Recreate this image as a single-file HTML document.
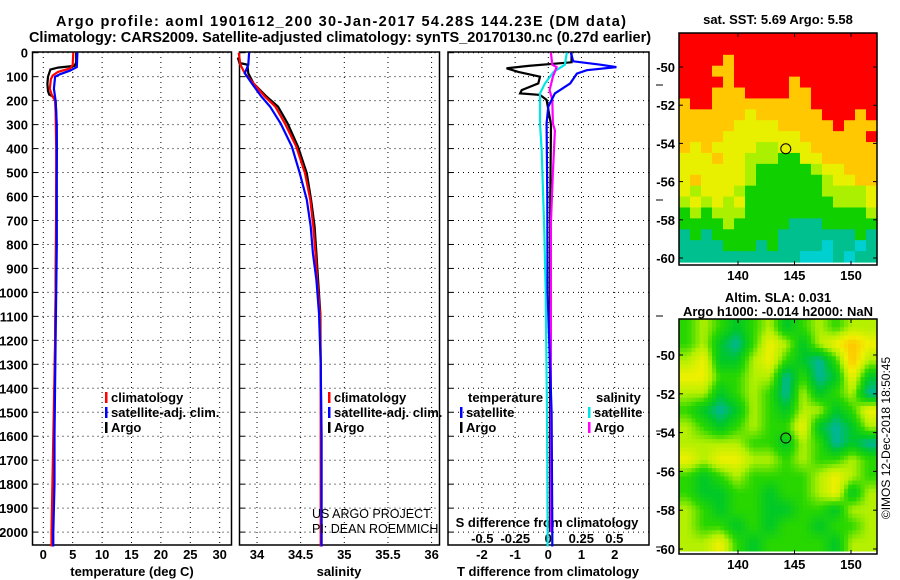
<!DOCTYPE html>
<html><head><meta charset="utf-8">
<style>
body{margin:0;background:#fff;}
svg{display:block;font-family:"Liberation Sans",Arial,sans-serif;}
.b{font-weight:bold;font-size:13px;}
</style></head>
<body>
<div style="position:relative;width:900px;height:580px;">
<svg id="fig" width="900" height="580" viewBox="0 0 900 580">
<text x="341" y="26" text-anchor="middle" font-size="14.5" font-weight="bold" textLength="570" lengthAdjust="spacing">Argo profile: aoml 1901612_200 30-Jan-2017 54.28S 144.23E (DM data)</text>
<text x="340" y="42" text-anchor="middle" font-size="14.5" font-weight="bold">Climatology: CARS2009. Satellite-adjusted climatology: synTS_20170130.nc (0.27d earlier)</text>
<text x="778" y="24" text-anchor="middle" class="b" font-size="12">sat. SST: 5.69 Argo: 5.58</text>
<text x="778" y="302" text-anchor="middle" class="b">Altim. SLA: 0.031</text>
<text x="778" y="316" text-anchor="middle" class="b">Argo h1000: -0.014 h2000: NaN</text>
<text transform="translate(890,438) rotate(-90)" text-anchor="middle" font-size="12">©IMOS 12-Dec-2018 18:50:45</text>
<g id="p1"></g>
<g id="p2"></g>
<g id="p3"></g>
<g id="m1"></g>
<g id="m2"></g>
</svg>
</div>
<script>
// ---- depth axis ----
const depthTicks = [0,100,200,300,400,500,600,700,800,900,1000,1100,1200,1300,1400,1500,1600,1700,1800,1900,2000];
// ---- temperature ----
const tTicks = [0,5,10,15,20,25,30];
const tClimDepth = [0,50,65,80,95,110,150,180,200,250,400,800,1200,1600,2000,2060];
const tClim = [5.1,5.0,4.6,2.5,1.6,1.3,1.1,1.5,2.0,2.1,2.2,2.2,2.0,1.7,1.4,1.4];
const tSatDepth = [0,60,75,90,100,150,200,250,300,800,1200,1600,1800,2000,2060];
const tSat = [5.8,5.7,4.5,2.8,2.0,1.8,2.1,2.2,2.3,2.3,2.1,1.9,1.9,1.7,1.7];
const tArgoDepth = [0,40,55,62,70,100,130,160,175,185,200,250,400,600,1000,1500,2000];
const tArgo = [5.6,5.6,5.3,2.5,1.2,0.8,0.7,0.8,1.0,1.8,2.1,2.2,2.3,2.2,2.1,1.9,1.6];
// ---- salinity ----
const sTicks = [34,34.5,35,35.5,36];
const sDepth = [0,50,86,128,183,225,295,392,503,614,725,836,948,1087,1300,1600,2060];
const sClim = [33.79,33.81,33.86,33.96,34.09,34.21,34.32,34.45,34.55,34.61,34.645,34.67,34.69,34.72,34.73,34.73,34.73];
const sSat = [33.91,33.90,33.86,33.94,34.05,34.15,34.27,34.40,34.49,34.57,34.615,34.64,34.68,34.71,34.73,34.74,34.74];
const sArgoDepth = [20,43,50,86,128,183,225,295,392,503,614,725,836,948,1087,1300,1600,2000];
const sArgo = [33.78,33.80,33.89,33.90,33.96,34.11,34.24,34.35,34.47,34.57,34.62,34.66,34.68,34.70,34.725,34.73,34.735,34.735];
// ---- differences ----
const dTTicks = [-2,-1,0,1,2];
const dSTicks = [-0.5,-0.25,0,0.25,0.5];
const dSTickLabels = ["-0.5","-0.25","0","0.25","0.5"];
const dTArgoDepth = [0,40,55,65,80,100,128,156,170,176,197,300,600,1000,1500,2000];
const dTArgo = [0.7,0.7,-0.6,-1.26,-0.9,-0.25,-0.3,-0.8,-0.85,-0.25,-0.05,0.08,0.06,0.05,0.05,0.05];
const dTSatDepth = [0,36,50,60,73,87,128,170,225,295,600,1000,1500,2000,2060];
const dTSat = [0.68,0.75,1.57,2.05,1.16,0.86,0.66,0.2,0,-0.05,-0.03,-0.02,0.1,0.12,0.12];
const dSSatDepth = [0,50,80,128,170,295,409,617,742,1000,1500,2000,2060];
const dSSat = [0.14,0.126,0.04,-0.025,-0.063,-0.063,-0.05,-0.038,-0.03,-0.02,-0.01,-0.005,-0.005];
const dSArgoDepth = [0,50,60,100,156,197,295,325,500,710,1000,1500,2000];
const dSArgo = [0.02,0.03,0.063,0.035,0.01,0.03,0.035,0.05,0.035,0.02,0.02,0.02,0.02];
// ---- SST map (color classes) ----
const sstRows = [
"000000000000000000","000000000000000000","000010000000000000","000110000000000000",
"000010000010000000","000111000011000000","100111111111000000","111111211111100010",
"111112222111110111","111122222221111110","121222233222111111","222122333442211111",
"222222344444322111","212222344444432211","232223444444433332","323232444444443332",
"434333444444444443","444434444455544444","545444444555555545","555544454555565565",
"555555555556665655"];
const sstColors = ["#ff0000","#ffc800","#e8f000","#aaf000","#10d000","#00c090","#00d0d0"];
// ---- SLA map values ----
const slaRows = [
[0,1,0,-1,0,1,-1,0,1,0,1,1],[0,1,-1,-2,0,2,1,-1,1,2,3,2],[1,2,-1,-1,1,2,0,-1,-2,0,3,1],
[2,2,0,0,1,1,-2,0,-2,-1,2,-1],[1,1,-1,0,1,0,-2,1,-1,0,1,-2],[0,-1,-2,-1,1,0,-1,1,1,-1,0,2],
[1,0,-1,0,1,0,0,2,-1,-2,-1,1],[1,1,1,1,0,0,-1,1,0,-2,-1,-2],[2,1,2,2,1,1,0,1,0,0,1,0],
[0,-1,0,1,0,0,0,0,1,2,1,0],[0,-1,-1,0,0,-1,0,0,1,2,-1,1],[1,0,-1,0,0,-1,-1,0,0,-1,1,1],
[1,0,0,-1,0,-1,0,0,-1,0,0,1],[1,1,2,0,-1,0,0,0,0,-1,1,1]];
const latTicks = [-50,-52,-54,-56,-58,-60];
const lonTicks = [140,145,150];
const argoLon = 144.23, argoLat = -54.28;

const NS="http://www.w3.org/2000/svg";
function mk(parent,tag,attrs,text){const e=document.createElementNS(NS,tag);for(const k in attrs)e.setAttribute(k,attrs[k]);if(text!==undefined)e.textContent=text;parent.appendChild(e);return e;}
const Y0=52.7, YS=0.2397, TOP=52, BOT=545;
const yD=d=>Y0+d*YS;

function panel(g,x0,x1,xf,ticks){
  mk(g,'rect',{x:x0,y:TOP,width:x1-x0,height:BOT-TOP,fill:'#fff',stroke:'#000','stroke-width':1.5});
  depthTicks.forEach(d=>{
    const l=mk(g,'line',{x1:x0,x2:x1,y1:yD(d),y2:yD(d),stroke:'#000','stroke-dasharray':'1 4','stroke-width':1});
    
    
    mk(g,'line',{x1:x0,x2:x0+5,y1:yD(d),y2:yD(d),stroke:'#000'});
  });
  ticks.forEach(v=>{
    const x=xf(v);
    if(x<x0||x>x1) return;
    const l=mk(g,'line',{x1:x,x2:x,y1:TOP,y2:BOT,stroke:'#000','stroke-dasharray':'1 4','stroke-width':1});
    
    
  });
}
function line(g,xf,ds,vs,color,name,w){
  const pts=ds.map((d,i)=>xf(vs[i]).toFixed(1)+','+yD(d).toFixed(1)).join(' ');
  const p=mk(g,'polyline',{points:pts,fill:'none',stroke:color,'stroke-width':w||2.2,'stroke-linejoin':'miter'});
  
  
}
function legend(g,x,y,color,label){
  mk(g,'rect',{x:x,y:y-10,width:2.5,height:11,fill:color});
  const t=mk(g,'text',{x:x+6,y:y,class:'b','font-size':12.5},label);
  
  
}

// Panel 1
const g1=document.getElementById('p1');
const xT=v=>43.3+v*5.88;
panel(g1,32.5,231.5,xT,tTicks);
depthTicks.forEach(d=>{const t=mk(g1,'text',{x:28,y:yD(d)+5,'text-anchor':'end',class:'b'},String(d));
  });
tTicks.forEach(v=>{const t=mk(g1,'text',{x:xT(v),y:559,'text-anchor':'middle',class:'b'},String(v));
  });
mk(g1,'text',{x:132,y:576,'text-anchor':'middle',class:'b'},'temperature (deg C)');
line(g1,xT,tArgoDepth,tArgo,'#000','argo-temperature-line');
line(g1,xT,tClimDepth,tClim,'#f00','climatology-temperature-line');
line(g1,xT,tSatDepth,tSat,'#00f','satellite-temperature-line');
legend(g1,105,402,'#f00','climatology');legend(g1,105,417,'#00f','satellite-adj. clim.');legend(g1,105,432,'#000','Argo');

// Panel 2
const g2=document.getElementById('p2');
const xS=v=>257+(v-34)*87.3;
panel(g2,239.5,439.5,xS,sTicks);
sTicks.forEach(v=>{const t=mk(g2,'text',{x:xS(v),y:559,'text-anchor':'middle',class:'b'},String(v));
  });
mk(g2,'text',{x:339,y:576,'text-anchor':'middle',class:'b'},'salinity');
line(g2,xS,sArgoDepth,sArgo,'#000','argo-salinity-line');
line(g2,xS,sDepth,sClim,'#f00','climatology-salinity-line');
line(g2,xS,sDepth,sSat,'#00f','satellite-salinity-line');
legend(g2,328,402,'#f00','climatology');legend(g2,328,417,'#00f','satellite-adj. clim.');legend(g2,328,432,'#000','Argo');
mk(g2,'text',{x:312,y:518,'font-size':12.5},'US ARGO PROJECT');
mk(g2,'text',{x:312,y:533,'font-size':12.5},'PI: DEAN ROEMMICH');

// Panel 3
const g3=document.getElementById('p3');
const xDT=v=>548.3+v*33.2;
const xDS=v=>548.3+v*132;
panel(g3,448,649,xDT,dTTicks);
[85,200,316,431,547].forEach(y=>mk(g3,'line',{x1:656,x2:663,y1:y,y2:y,stroke:'#000'}));
dTTicks.forEach(v=>{const t=mk(g3,'text',{x:xDT(v),y:559,'text-anchor':'middle',class:'b'},String(v));
  });
dSTicks.forEach((v,i)=>{const t=mk(g3,'text',{x:xDS(v),y:543,'text-anchor':'middle',class:'b'},dSTickLabels[i]);
  });
mk(g3,'text',{x:547,y:527,'text-anchor':'middle',class:'b'},'S difference from climatology');
mk(g3,'text',{x:548,y:576,'text-anchor':'middle',class:'b'},'T difference from climatology');
line(g3,xDT,dTArgoDepth,dTArgo,'#000','argo-t-diff-line');
line(g3,xDS,dSSatDepth,dSSat,'#00e6e6','satellite-s-diff-line');
line(g3,xDS,dSArgoDepth,dSArgo,'#f0f','argo-s-diff-line');
line(g3,xDT,dTSatDepth,dTSat,'#00f','satellite-t-diff-line');
mk(g3,'text',{x:468,y:402,class:'b','font-size':12.5},'temperature');
legend(g3,460,417,'#00f','satellite');legend(g3,460,432,'#000','Argo');
mk(g3,'text',{x:596,y:402,class:'b','font-size':12.5},'salinity');
legend(g3,588,417,'#00e6e6','satellite');legend(g3,588,432,'#f0f','Argo');

// Maps
function mapFrame(g,x0,x1,y0,y1,lonF,latF){
  mk(g,'rect',{x:x0,y:y0,width:x1-x0,height:y1-y0,fill:'none',stroke:'#000','stroke-width':1.5});
  latTicks.forEach(v=>{const y=latF(v);
    mk(g,'line',{x1:x0,x2:x0+4,y1:y,y2:y,stroke:'#000'});mk(g,'line',{x1:x1,x2:x1-4,y1:y,y2:y,stroke:'#000'});
    const t=mk(g,'text',{x:x0-4,y:y+5,'text-anchor':'end',class:'b'},String(v));
    });
  lonTicks.forEach(v=>{const x=lonF(v);
    mk(g,'line',{x1:x,x2:x,y1:y1,y2:y1-4,stroke:'#000'});mk(g,'line',{x1:x,x2:x,y1:y0,y2:y0+4,stroke:'#000'});
    const t=mk(g,'text',{x:x,y:y1+15,'text-anchor':'middle',class:'b'},String(v));
    });
  const c=mk(g,'circle',{cx:lonF(argoLon),cy:latF(argoLat),r:5,fill:'none',stroke:'#000','stroke-width':1});
  
  
}
// SST map
const m1=document.getElementById('m1');
const a1={x0:679,x1:877,y0:33,y1:265};
const lon1=v=>738+(v-140)*11.3, lat1=v=>67+(-50-v)*19.1;
const nr=sstRows.length, nc=sstRows[0].length;
const cw=(a1.x1-a1.x0)/nc, chh=(a1.y1-3-a1.y0)/nr;
sstRows.forEach((row,r)=>{for(let c=0;c<nc;c++){
  const cell=mk(m1,'rect',{x:(a1.x0+c*cw).toFixed(2),y:(a1.y0+r*chh).toFixed(2),width:(cw+0.6).toFixed(2),height:(chh+0.6).toFixed(2),fill:sstColors[+row[c]]});
  
  
}});
mapFrame(m1,a1.x0,a1.x1,a1.y0,a1.y1,lon1,lat1);
// SLA map
const m2=document.getElementById('m2');
const a2={x0:679,x1:877,y0:319,y1:554};
const lon2=v=>738+(v-140)*11.3, lat2=v=>355+(-50-v)*19.4;
const stops=[[-3,[0,230,255]],[-2,[0,180,160]],[-1,[0,200,40]],[0,[40,215,0]],[1,[180,240,0]],[2,[240,240,0]],[3,[255,196,0]]];
function cmap(v){v=Math.max(-3,Math.min(3,v));for(let i=0;i<stops.length-1;i++){const [a,ca]=stops[i],[b,cb]=stops[i+1];
  if(v<=b){const t=(v-a)/(b-a);return 'rgb('+ca.map((x,k)=>Math.round(x+(cb[k]-x)*t)).join(',')+')';}}return 'rgb(255,196,0)';}
const R=slaRows.length,C=slaRows[0].length,sub=4;
const bw=(a2.x1-a2.x0)/(C*sub), bh=(a2.y1-3-a2.y0)/(R*sub);
function val(fy,fx){fy=Math.max(0,Math.min(R-1,fy));fx=Math.max(0,Math.min(C-1,fx));
  const y0=Math.floor(fy),x0=Math.floor(fx),y1=Math.min(R-1,y0+1),x1=Math.min(C-1,x0+1),ty=fy-y0,tx=fx-x0;
  return slaRows[y0][x0]*(1-tx)*(1-ty)+slaRows[y0][x1]*tx*(1-ty)+slaRows[y1][x0]*(1-tx)*ty+slaRows[y1][x1]*tx*ty;}
for(let r=0;r<R*sub;r++)for(let c=0;c<C*sub;c++){
  const v=val((r+0.5)/sub-0.5,(c+0.5)/sub-0.5);
  const cell=mk(m2,'rect',{x:(a2.x0+c*bw).toFixed(2),y:(a2.y0+r*bh).toFixed(2),width:(bw+0.5).toFixed(2),height:(bh+0.5).toFixed(2),fill:cmap(v)});
  
  
}
mapFrame(m2,a2.x0,a2.x1,a2.y0,a2.y1,lon2,lat2);
</script>
</body></html>
